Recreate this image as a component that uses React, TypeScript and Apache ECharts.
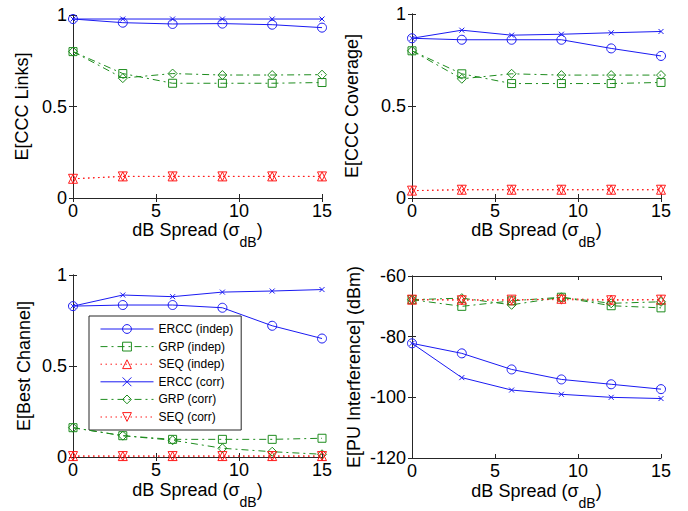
import React, { useEffect, useRef } from "react";
import * as echarts from "echarts";

const xs = [0, 3, 6, 9, 12, 15];
const seriesNames = ["ERCC (indep)", "GRP (indep)", "SEQ (indep)", "ERCC (corr)", "GRP (corr)", "SEQ (corr)"];

// Panel 1: E[CCC Links]
const linksErccIndep = [0.978, 0.958, 0.951, 0.953, 0.947, 0.931];
const linksGrpIndep = [0.8, 0.68, 0.627, 0.627, 0.627, 0.631];
const linksSeqIndep = [0.105, 0.118, 0.118, 0.118, 0.118, 0.118];
const linksErccCorr = [0.978, 0.978, 0.978, 0.978, 0.978, 0.978];
const linksGrpCorr = [0.8, 0.655, 0.68, 0.672, 0.672, 0.674];
const linksSeqCorr = [0.105, 0.118, 0.118, 0.118, 0.118, 0.118];

// Panel 2: E[CCC Coverage]
const covErccIndep = [0.868, 0.86, 0.86, 0.86, 0.813, 0.772];
const covGrpIndep = [0.8, 0.675, 0.622, 0.622, 0.622, 0.628];
const covSeqIndep = [0.04, 0.045, 0.045, 0.045, 0.045, 0.045];
const covErccCorr = [0.868, 0.912, 0.885, 0.89, 0.898, 0.905];
const covGrpCorr = [0.8, 0.648, 0.675, 0.668, 0.668, 0.668];
const covSeqCorr = [0.04, 0.045, 0.045, 0.045, 0.045, 0.045];

// Panel 3: E[Best Channel]
const bestErccIndep = [0.829, 0.835, 0.835, 0.82, 0.721, 0.651];
const bestGrpIndep = [0.161, 0.117, 0.097, 0.097, 0.097, 0.103];
const bestSeqIndep = [0.005, 0.005, 0.005, 0.005, 0.005, 0.005];
const bestErccCorr = [0.829, 0.89, 0.881, 0.906, 0.912, 0.92];
const bestGrpCorr = [0.161, 0.117, 0.092, 0.048, 0.029, 0.015];
const bestSeqCorr = [0.005, 0.005, 0.005, 0.005, 0.005, 0.005];

// Panel 4: E[PU Interference] (dBm)
const puErccIndep = [-82.2, -85.5, -90.8, -94.1, -95.7, -97.3];
const puGrpIndep = [-67.8, -70.0, -68.2, -67.0, -69.8, -70.5];
const puSeqIndep = [-67.8, -67.8, -68.0, -67.5, -67.8, -67.8];
const puErccCorr = [-82.2, -93.5, -97.6, -99.0, -100.0, -100.4];
const puGrpCorr = [-67.8, -67.3, -69.5, -67.0, -69.0, -68.5];
const puSeqCorr = [-67.8, -68.0, -67.8, -67.8, -68.0, -67.8];

const panelTitles = ["E[CCC Links]", "E[CCC Coverage]", "E[Best Channel]", "E[PU Interference] (dBm)"];
const panelData = [
  [linksErccIndep, linksGrpIndep, linksSeqIndep, linksErccCorr, linksGrpCorr, linksSeqCorr],
  [covErccIndep, covGrpIndep, covSeqIndep, covErccCorr, covGrpCorr, covSeqCorr],
  [bestErccIndep, bestGrpIndep, bestSeqIndep, bestErccCorr, bestGrpCorr, bestSeqCorr],
  [puErccIndep, puGrpIndep, puSeqIndep, puErccCorr, puGrpCorr, puSeqCorr],
];
const xTicks = { min: 0, max: 15, interval: 5 };
const yRanges = [
  { min: 0, max: 1, interval: 0.5 },
  { min: 0, max: 1, interval: 0.5 },
  { min: 0, max: 1, interval: 0.5 },
  { min: -120, max: -60, interval: 20 },
];

const FONT = "'Liberation Sans', Arial, Helvetica, sans-serif";
const BLUE = "#1a1af2";
const GREEN = "#1e8c1e";
const RED = "#ff1a1a";
const AXIS = "#262626";

const grids = [
  { left: 73, top: 15, width: 249, height: 183 },
  { left: 412, top: 14, width: 249, height: 184 },
  { left: 73, top: 275, width: 249, height: 182 },
  { left: 412, top: 276, width: 249, height: 182 },
];
const yNameGaps = [42, 51, 40, 49];
const xNameGaps = [23, 23, 24, 24];
const xLabelMargins = [6, 6, 6, 6];

const seriesStyles = [
  { color: BLUE, symbol: "circle", size: 9, line: "solid" as any, rotate: 0 },
  { color: GREEN, symbol: "rect", size: 8, line: [7, 4, 2, 4], rotate: 0 },
  { color: RED, symbol: "triangle", size: 9, line: [1.5, 3.5], rotate: 0 },
  { color: BLUE, symbol: "path://M0 0L10 10M10 0L0 10", size: 5, line: "solid" as any, rotate: 0 },
  { color: GREEN, symbol: "diamond", size: 9, line: [7, 4, 2, 4], rotate: 0 },
  { color: RED, symbol: "triangle", size: 9, line: [1.5, 3.5], rotate: 180 },
];

export default function App() {
  const ref = useRef<HTMLDivElement>(null);
  useEffect(() => {
    document.body.style.margin = "0";
    if (!ref.current) return;
    const chart = echarts.init(ref.current, null, { renderer: "svg" });
    const xAxis: any[] = [];
    const yAxis: any[] = [];
    const series: any[] = [];
    grids.forEach((g, i) => {
      xAxis.push({
        type: "value",
        gridIndex: i,
        position: "bottom",
        ...xTicks,
        name: "{m|dB Spread (σ}{sub|dB}{m|)}",
        nameLocation: "middle",
        nameGap: xNameGaps[i],
        nameMoveOverlap: false,
        nameTextStyle: {
          fontSize: 18,
          color: "#000",
          fontFamily: FONT,
          rich: {
            m: { fontSize: 18, lineHeight: 22, verticalAlign: "top", color: "#000", fontFamily: FONT },
            sub: { fontSize: 14, lineHeight: 14, padding: [14, 0, 0, 0], verticalAlign: "top", color: "#000", fontFamily: FONT },
          },
        },
        axisLine: { show: true, lineStyle: { color: AXIS, width: 1 } },
        axisTick: { show: true, inside: true, length: 4, lineStyle: { color: AXIS } },
        axisLabel: { fontSize: 18, lineHeight: 14, color: "#000", fontFamily: FONT, margin: xLabelMargins[i] },
        splitLine: { show: false },
      });
      xAxis.push({
        type: "value",
        gridIndex: i,
        position: "top",
        ...xTicks,
        axisLine: { show: true, lineStyle: { color: AXIS, width: 1 } },
        axisTick: { show: true, inside: true, length: 4, lineStyle: { color: AXIS } },
        axisLabel: { show: false },
        splitLine: { show: false },
      });
      yAxis.push({
        type: "value",
        gridIndex: i,
        position: "left",
        ...yRanges[i],
        name: panelTitles[i],
        nameLocation: "middle",
        nameGap: yNameGaps[i],
        nameMoveOverlap: false,
        nameTextStyle: { fontSize: 18, color: "#000", fontFamily: FONT },
        axisLine: { show: true, lineStyle: { color: AXIS, width: 1 } },
        axisTick: { show: true, inside: true, length: 4, lineStyle: { color: AXIS } },
        axisLabel: { fontSize: 18, color: "#000", fontFamily: FONT, margin: 6 },
        splitLine: { show: false },
      });
      yAxis.push({
        type: "value",
        gridIndex: i,
        position: "right",
        ...yRanges[i],
        axisLine: { show: true, lineStyle: { color: AXIS, width: 1 } },
        axisTick: { show: true, inside: true, length: 4, lineStyle: { color: AXIS } },
        axisLabel: { show: false },
        splitLine: { show: false },
      });
      panelData[i].forEach((vals, k) => {
        const st = seriesStyles[k];
        series.push({
          type: "line",
          name: seriesNames[k],
          xAxisIndex: 2 * i,
          yAxisIndex: 2 * i,
          data: xs.map((x, j) => [x, vals[j]]),
          symbol: st.symbol,
          symbolSize: st.size,
          symbolRotate: st.rotate,
          showAllSymbol: true,
          lineStyle: { color: st.color, width: 1, type: st.line },
          itemStyle: { color: "rgba(0,0,0,0)", borderColor: st.color, borderWidth: 1 },
          emphasis: { disabled: true },
          z: 2 + k,
        });
      });
    });
    chart.setOption({
      animation: false,
      grid: grids.map((g) => ({ ...g, containLabel: false, outerBoundsMode: "none" })),
      xAxis,
      yAxis,
      series,
      legend: {
        data: seriesNames,
        orient: "vertical",
        left: 89,
        top: 316,
        padding: [7, 8, 7, 11],
        itemWidth: 53,
        itemHeight: 11,
        itemGap: 5.6,
        backgroundColor: "#fff",
        borderColor: AXIS,
        borderWidth: 1,
        borderRadius: 0,
        selectedMode: false,
        lineStyle: { width: 1 },
        itemStyle: { borderWidth: 1 },
        textStyle: { fontSize: 12, lineHeight: 12, color: "#000", fontFamily: FONT },
      },
    });
    return () => chart.dispose();
  }, []);
  return <div ref={ref} style={{ width: 688, height: 511 }} />;
}
